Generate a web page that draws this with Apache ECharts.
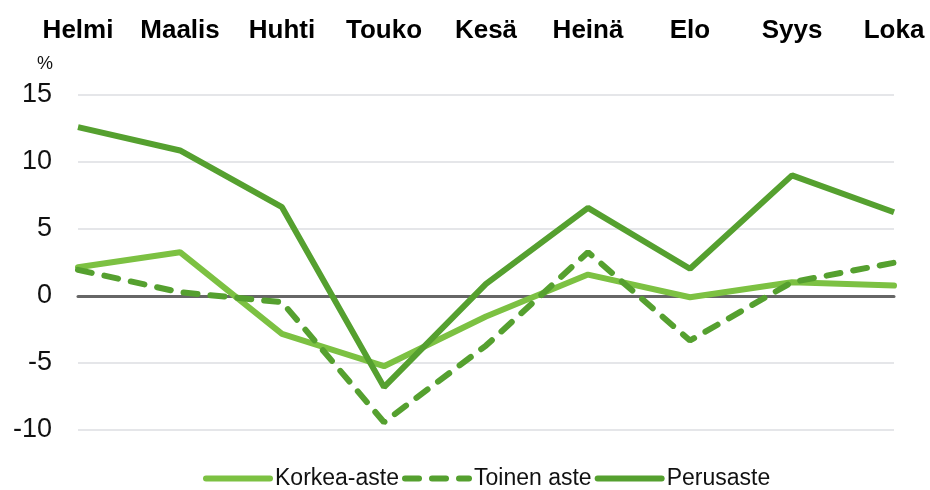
<!DOCTYPE html>
<html>
<head>
<meta charset="utf-8">
<script src="https://cdn.jsdelivr.net/npm/echarts@6/dist/echarts.min.js"></script>
<style>
  html, body { margin: 0; padding: 0; background: #fff; }
  #main { width: 930px; height: 490px; }
</style>
</head>
<body>
<div id="main"></div>
<script>
const months = ['Helmi', 'Maalis', 'Huhti', 'Touko', 'Kesä', 'Heinä', 'Elo', 'Syys', 'Loka']
const korkeaAste = [2.15, 3.27, -2.82, -5.24, -1.53, 1.6, -0.09, 1.03, 0.78]
const toinenAste = [1.95, 0.28, -0.46, -9.42, -3.7, 3.27, -3.32, 1.03, 2.48]
const perusaste = [12.6, 10.86, 6.63, -6.8, 0.9, 6.58, 2.03, 9.0, 6.25]

const font = 'Liberation Sans, Arial, sans-serif'
const lightGreen = '#7cc142'
const darkGreen = '#55a02f'

const myChart = echarts.init(document.getElementById('main'))
myChart.setOption({
  animation: false,
  grid: { left: 78, right: 36, top: 95, bottom: 60 },
  legend: {
    left: 198,
    top: 462,
    itemWidth: 64,
    itemHeight: 14,
    itemGap: 3,
    itemStyle: { opacity: 0 },
    lineStyle: { width: 6, cap: 'round' },
    textStyle: { fontFamily: font, fontSize: 23, color: '#111' },
    data: ['Korkea-aste', 'Toinen aste', 'Perusaste']
  },
  xAxis: [
    {
      type: 'category',
      position: 'top',
      data: months,
      boundaryGap: false,
      axisLine: { show: false, onZero: false },
      axisTick: { show: false },
      axisLabel: {
        interval: 0,
        margin: 51,
        fontFamily: font,
        fontSize: 26,
        fontWeight: 'bold',
        color: '#000'
      }
    },
    {
      // zero line
      type: 'category',
      position: 'bottom',
      data: months,
      boundaryGap: false,
      axisLine: { show: true, onZero: true, lineStyle: { color: '#666', width: 3 } },
      axisTick: { show: false },
      axisLabel: { show: false }
    }
  ],
  yAxis: {
    type: 'value',
    min: -10,
    max: 15,
    interval: 5,
    name: '%',
    nameLocation: 'end',
    nameGap: 22,
    nameTextStyle: { fontFamily: font, fontSize: 18, color: '#111', align: 'right', padding: [0, 25, 0, 0] },
    axisLine: { show: false },
    axisTick: { show: false },
    axisLabel: { margin: 26, fontFamily: font, fontSize: 27, color: '#111' },
    splitLine: { lineStyle: { color: '#dcdee2', width: 1.5 } }
  },
  series: [
    {
      name: 'Korkea-aste',
      type: 'line',
      data: korkeaAste,
      symbol: 'none',
      color: lightGreen,
      lineStyle: { width: 6, color: lightGreen, cap: 'round' }
    },
    {
      name: 'Toinen aste',
      type: 'line',
      data: toinenAste,
      symbol: 'none',
      color: darkGreen,
      lineStyle: { width: 6, color: darkGreen, type: [14, 13], cap: 'round' }
    },
    {
      name: 'Perusaste',
      type: 'line',
      data: perusaste,
      symbol: 'none',
      color: darkGreen,
      lineStyle: { width: 6, color: darkGreen }
    }
  ]
})
</script>
</body>
</html>
